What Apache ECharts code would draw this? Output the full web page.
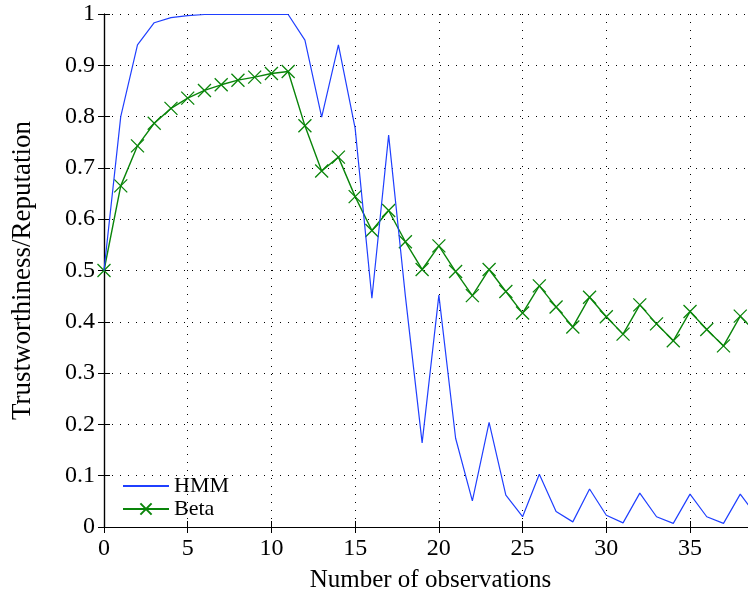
<!DOCTYPE html>
<html>
<head>
<meta charset="utf-8">
<script src="https://cdn.jsdelivr.net/npm/echarts@6/dist/echarts.min.js"></script>
<style>
  html, body { margin: 0; padding: 0; background: #fff; }
  #chart { width: 748px; height: 596px; }
</style>
</head>
<body>
<div id="chart"></div>
<script>
(function (echarts) {
  "use strict";

  // observations 0..39 (the figure is cropped just past 38)
  var observations = [];
  for (var i = 0; i <= 39; i++) { observations.push(i); }

  var hmmValues = [
    0.500, 0.800, 0.940, 0.983, 0.993, 0.997, 0.999, 0.999, 0.999, 0.999,
    0.999, 0.999, 0.949, 0.799, 0.940, 0.777, 0.446, 0.764, 0.450, 0.164,
    0.452, 0.173, 0.051, 0.204, 0.062, 0.020, 0.103, 0.030, 0.010, 0.074,
    0.023, 0.008, 0.066, 0.020, 0.007, 0.064, 0.020, 0.007, 0.064, 0.020
  ];

  var betaValues = [
    0.500, 0.665, 0.743, 0.787, 0.816, 0.836, 0.851, 0.862, 0.871, 0.877,
    0.884, 0.888, 0.782, 0.694, 0.721, 0.644, 0.578, 0.617, 0.556, 0.502,
    0.548, 0.498, 0.451, 0.502, 0.459, 0.417, 0.470, 0.429, 0.390, 0.448,
    0.410, 0.376, 0.433, 0.396, 0.363, 0.420, 0.385, 0.353, 0.411, 0.377
  ];

  var seriesNames = ["HMM", "Beta"];

  function pairs(values) {
    return values.map(function (v, idx) { return [observations[idx], v]; });
  }

  var FONT = "Liberation Serif";
  var BLUE = "#1f3fff", GREEN = "#0a850a";
  var crossPath = "path://M0,0L10,10M10,0L0,10";

  var dotted = { show: true, lineStyle: { color: "#000", width: 1, type: [1, 7] } };
  var frameLine = { show: true, lineStyle: { color: "#000", width: 1.2 } };
  var innerTick = { show: true, inside: true, length: 6, lineStyle: { color: "#000" } };

  var option = {
    animation: false,
    backgroundColor: "#fff",
    textStyle: { fontFamily: FONT },
    grid: { left: 104, top: 14, width: 653, height: 513, outerBoundsMode: "none", containLabel: false },
    legend: {
      orient: "vertical",
      left: 122,
      top: 475,
      padding: 0,
      itemWidth: 46,
      itemHeight: 14,
      itemGap: 1,
      textStyle: { fontFamily: FONT, fontSize: 22, lineHeight: 22, color: "#000" },
      data: [
        { name: seriesNames[0], itemStyle: { opacity: 0 } },
        { name: seriesNames[1] }
      ]
    },
    xAxis: [{
      type: "value",
      min: 0,
      max: 39,
      interval: 5,
      name: "Number of observations",
      nameLocation: "middle",
      nameGap: 41,
      nameTextStyle: { fontFamily: FONT, fontSize: 25, color: "#000" },
      axisLine: frameLine,
      axisTick: innerTick,
      axisLabel: { fontFamily: FONT, fontSize: 24, color: "#000", margin: 10, showMaxLabel: false },
      splitLine: dotted
    }, {
      type: "value",
      position: "top",
      min: 0,
      max: 39,
      interval: 5,
      axisLine: frameLine,
      axisTick: innerTick,
      axisLabel: { show: false },
      splitLine: { show: false }
    }],
    yAxis: [{
      type: "value",
      min: 0,
      max: 1,
      interval: 0.1,
      name: "Trustworthiness/Reputation",
      nameLocation: "middle",
      nameGap: 68,
      nameRotate: 90,
      nameTextStyle: { fontFamily: FONT, fontSize: 27, color: "#000" },
      axisLine: frameLine,
      axisTick: innerTick,
      axisLabel: {
        fontFamily: FONT, fontSize: 24, color: "#000", margin: 9,
        formatter: function (v) { return String(Math.round(v * 10) / 10); }
      },
      splitLine: dotted
    }, {
      type: "value",
      position: "right",
      min: 0,
      max: 1,
      interval: 0.1,
      axisLine: frameLine,
      axisTick: innerTick,
      axisLabel: { show: false },
      splitLine: { show: false }
    }],
    series: [{
      name: seriesNames[0],
      type: "line",
      data: pairs(hmmValues),
      symbol: "none",
      lineStyle: { color: BLUE, width: 1.2 },
      itemStyle: { color: BLUE },
      z: 3
    }, {
      name: seriesNames[1],
      type: "line",
      data: pairs(betaValues),
      symbol: crossPath,
      symbolSize: 13,
      showAllSymbol: true,
      lineStyle: { color: GREEN, width: 1.4 },
      itemStyle: { color: "rgba(0,0,0,0)", borderColor: GREEN, borderWidth: 1.3 },
      z: 2
    }]
  };

  var chart = echarts.init(document.getElementById("chart"), null, { renderer: "canvas" });
  chart.setOption(option);
})(echarts);
</script>
</body>
</html>
